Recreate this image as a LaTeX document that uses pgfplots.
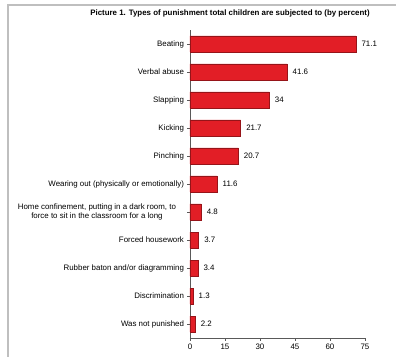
\documentclass[border=0pt]{standalone}
\usepackage{pgfplots}
\pgfplotsset{compat=1.18}
\usetikzlibrary{calc}
\usepackage{fontspec}
\setmainfont{Liberation Sans}
\definecolor{barred}{RGB}{226,30,38}
\definecolor{baredge}{RGB}{150,20,25}
\pgfplotstableread{
i v lab
10 71.1 71.1
9 41.6 41.6
8 34 34
7 21.7 21.7
6 20.7 20.7
5 11.6 11.6
4 4.8 4.8
3 3.7 3.7
2 3.4 3.4
1 1.3 1.3
0 2.2 2.2
}\datatab
\begin{document}
\begin{tikzpicture}[x=1pt,y=1pt]
\begin{axis}[scale only axis, width=175pt, height=308pt,
  xbar, bar width=16pt, xmin=0, xmax=75, ymin=-0.5, ymax=10.5,
  axis x line*=bottom, axis y line*=left,
  axis line style={gray!70!black},
  xtick={0,15,...,75}, ytick={0,...,10},
  yticklabels={Was not punished, Discrimination, Rubber baton and/or diagramming, Forced housework, {Home confinement, putting in a dark room, to\hspace*{8pt}\\force to sit in the classroom for a long\hspace*{8pt}}, Wearing out (physically or emotionally), Pinching, Kicking, Slapping, Verbal abuse, Beating},
  yticklabel style={font=\fontsize{7.9}{9}\selectfont, align=center},
  xticklabel style={font=\fontsize{7.9}{9}\selectfont},
  /pgf/number format/assume math mode=true,
  tick align=outside, major tick length=2.5pt, tick style={gray!70!black},
  nodes near coords, point meta=explicit symbolic,
  nodes near coords style={font=\fontsize{7.9}{9}\selectfont, anchor=west, xshift=2pt},
]
\addplot[fill=barred, draw=baredge, line width=0.6pt] table[x=v, y=i, meta=lab] {\datatab};
\coordinate (SW) at (rel axis cs:0,0);
\end{axis}
\pgfresetboundingbox
\useasboundingbox ($(SW)+(-190,-18)$) rectangle ($(SW)+(206,338)$);
\draw[gray!50, line width=1.5pt] ($(SW)+(-182,-20)$) -- ($(SW)+(-182,333)$) -- ($(SW)+(210,333)$);
\node[font=\fontsize{7.9}{9}\selectfont\bfseries] at ($(SW)+(40,325)$) {Picture 1. Types of punishment total children are subjected to (by percent)};
\end{tikzpicture}
\end{document}
